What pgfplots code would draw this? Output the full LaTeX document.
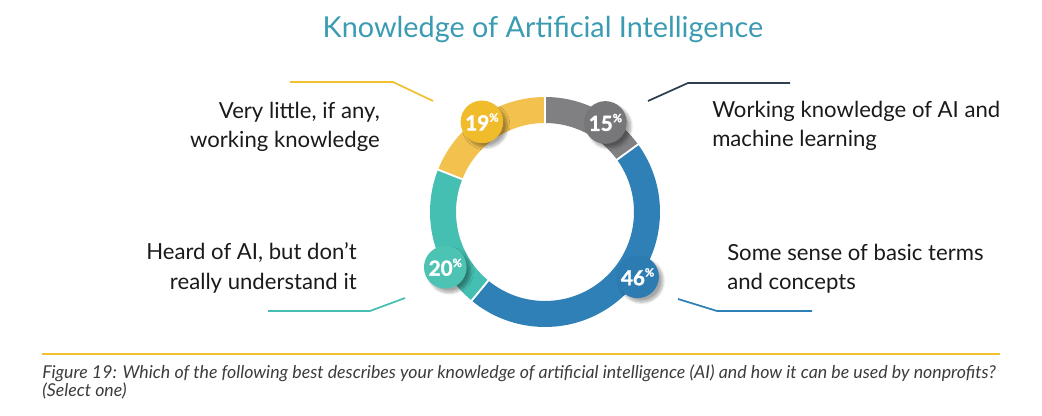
\documentclass[border=0pt]{standalone}
\usepackage{pgfplots}
\pgfplotsset{compat=1.18}
\usepackage{pgfplotstable}
\usepackage{fontspec}
\setmainfont{Lato}
\newfontfamily\badgefont{Lato}[BoldFeatures={FakeBold=1.6}]
\usetikzlibrary{shadows.blur}

\definecolor{titleTeal}{HTML}{3A9BB2}
\definecolor{segGray}{HTML}{808082}
\definecolor{badgeGray}{HTML}{77777A}
\definecolor{segBlue}{HTML}{2E80B6}
\definecolor{badgeBlue}{HTML}{2C7CB2}
\definecolor{segTeal}{HTML}{45BFB1}
\definecolor{badgeTeal}{HTML}{4DC3B3}
\definecolor{segYellow}{HTML}{F2C14E}
\definecolor{badgeYellow}{HTML}{F0BC2C}
\definecolor{lineNavy}{HTML}{2F3E50}
\definecolor{lineYellow}{HTML}{F2C033}
\definecolor{ruleYellow}{HTML}{F2C12E}
\definecolor{txt}{HTML}{1A1A1A}

% share of respondents per answer, clockwise from 12 o'clock;
% bang/bdist place the value badge (degrees, px from the centre)
\pgfplotstableread{
name   value seg       badge       bang bdist
work   15    segGray   badgeGray   56   108
basic  46    segBlue   badgeBlue   -35  113
heard  20    segTeal   badgeTeal   209  114
little 19    segYellow badgeYellow 125  110
}\knowdata

\newcommand\badgetext[1]{\badgefont\bfseries\fontsize{15.5}{15.5}\selectfont #1\raisebox{0.42em}{\fontsize{8.5}{8.5}\selectfont\%}}

\begin{document}
\begin{tikzpicture}
\begin{axis}[
  scale only axis, width=781.5pt, height=312pt,
  xmin=0, xmax=1042, ymin=0, ymax=416,
  hide axis, clip=false,
]
\path (axis cs:0,0) rectangle (axis cs:1042,416);

% donut ring (outer radius 115px, inner 89px)
\xdef\cum{0}
\pgfplotsforeachungrouped \i in {0,...,3}{%
  \pgfplotstablegetelem{\i}{value}\of\knowdata \let\v\pgfplotsretval
  \pgfplotstablegetelem{\i}{seg}\of\knowdata \let\segcol\pgfplotsretval
  \pgfmathsetmacro\a{90-3.6*\cum}%
  \pgfmathsetmacro\b{\a-3.6*\v}%
  \edef\cmd{\noexpand\fill[\segcol] ([shift={(\a:86.25pt)}]axis cs:545,204)
     arc[start angle=\a, end angle=\b, radius=86.25pt]
     -- ([shift={(\b:66.75pt)}]axis cs:545,204)
     arc[start angle=\b, end angle=\a, radius=66.75pt] -- cycle;}%
  \cmd
  \pgfmathsetmacro\c{\cum+\v}\xdef\cum{\c}%
}
% white separators between the segments
\xdef\cum{0}
\pgfplotsforeachungrouped \i in {0,...,3}{%
  \pgfplotstablegetelem{\i}{value}\of\knowdata \let\v\pgfplotsretval
  \pgfmathsetmacro\a{90-3.6*\cum}%
  \edef\cmd{\noexpand\draw[white, line width=1.4pt]
     ([shift={(\a:64pt)}]axis cs:545,204) -- ([shift={(\a:89pt)}]axis cs:545,204);}%
  \cmd
  \pgfmathsetmacro\c{\cum+\v}\xdef\cum{\c}%
}
% value badges
\pgfplotsforeachungrouped \i in {0,...,3}{%
  \pgfplotstablegetelem{\i}{value}\of\knowdata \let\v\pgfplotsretval
  \pgfplotstablegetelem{\i}{badge}\of\knowdata \let\bcol\pgfplotsretval
  \pgfplotstablegetelem{\i}{bang}\of\knowdata \let\bang\pgfplotsretval
  \pgfplotstablegetelem{\i}{bdist}\of\knowdata \let\bdist\pgfplotsretval
  \pgfmathsetmacro\bd{0.75*\bdist}%
  \edef\cmd{\noexpand\node[circle, fill=\bcol, minimum size=32pt, inner sep=0pt,
     text=white, blur shadow={shadow xshift=3pt, shadow yshift=-3pt, shadow opacity=35, shadow blur steps=10}]
     at ([shift={(\bang:\bd pt)}]axis cs:545,204) {\noexpand\badgetext{\v}};}%
  \cmd
}

% leader lines
\draw[lineYellow, line width=1.3pt] (axis cs:290,334) -- (axis cs:393,334) -- (axis cs:433,315);
\draw[lineNavy, line width=1.3pt] (axis cs:648,315) -- (axis cs:688,333) -- (axis cs:790,333);
\draw[segTeal, line width=1.3pt] (axis cs:405,118) -- (axis cs:370,105) -- (axis cs:268,105);
\draw[segBlue, line width=1.3pt] (axis cs:678,117) -- (axis cs:717,105) -- (axis cs:812,105);

% category labels
\node[anchor=east, align=right, text=txt, font=\fontsize{16.6}{22}\selectfont, inner sep=0pt]
  at (axis cs:380,289) {Very little, if any,\\working knowledge};
\node[anchor=west, align=left, text=txt, font=\fontsize{16.6}{22}\selectfont, inner sep=0pt]
  at (axis cs:712,290) {Working knowledge of AI and\\machine learning};
\node[anchor=east, align=right, text=txt, font=\fontsize{16.6}{22}\selectfont, inner sep=0pt]
  at (axis cs:357,148) {Heard of AI, but don’t\\really understand it};
\node[anchor=west, align=left, text=txt, font=\fontsize{16.6}{22}\selectfont, inner sep=0pt]
  at (axis cs:727,147) {Some sense of basic terms\\and concepts};

% title
\node[text=titleTeal, font=\fontsize{21.6}{24}\selectfont, inner sep=0pt]
  at (axis cs:543,386) {Knowledge of Artificial Intelligence};

% caption
\draw[ruleYellow, line width=2pt] (axis cs:42,62) -- (axis cs:1000,62);
\node[anchor=west, align=left, text=txt!85, font=\fontsize{13.3}{13.5}\selectfont\itshape, inner sep=0pt]
  at (axis cs:42,34) {Figure 19: Which of the following best describes your knowledge of artificial intelligence (AI) and how it can be used by nonprofits?\\(Select one)};
\end{axis}
\end{tikzpicture}
\end{document}
